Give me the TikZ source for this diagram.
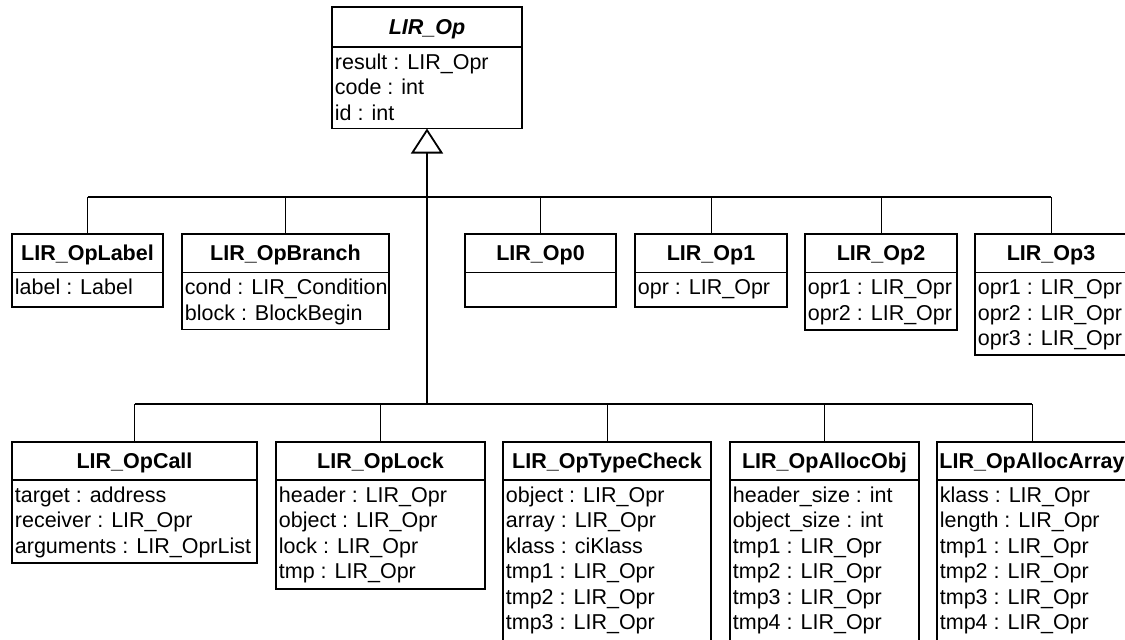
\documentclass[tikz,border=0pt]{standalone}
\usepackage{fontspec}
\setmainfont{Liberation Sans}
\usetikzlibrary{arrows.meta,calc}
\tikzset{
  x=0.5pt, y=-0.5pt,
  boxline/.style={rectangle, draw=black, line width=0.8pt, fill=white, inner sep=0pt, outer sep=0pt},
  classname/.style={font=\fontsize{10.75pt}{12.75pt}\selectfont\bfseries, inner sep=0pt,
                    text height=7.7pt, text depth=0pt, anchor=center},
  attrtext/.style={font=\fontsize{10.75pt}{12.75pt}\selectfont, align=left, inner sep=0pt, anchor=north west},
  stemline/.style={line width=0.5pt},
  busline/.style={line width=0.8pt},
  genline/.style={line width=0.9pt, -{Triangle[open, length=12.5pt, width=16pt]}},
}
% class box: name, left x, top y, width, name height, attribute height, title, attributes
\newcommand\umlclass[8]{%
  \node[boxline, anchor=north west, minimum width=#4*0.5pt, minimum height=#5*0.5pt] (#1) at (#2,#3) {};
  \node[boxline, anchor=north west, minimum width=#4*0.5pt, minimum height=#6*0.5pt] (#1-attr) at (#1.south west) {};
  \node[classname] (#1-name) at (#1.center) {#7};
  \node[attrtext] (#1-text) at ($(#1-attr.north west)+(2.5,2.2)$) {\rule{0pt}{9.9pt}#8};
}
\begin{document}
\begin{tikzpicture}
\useasboundingbox (0,0) rectangle (1125,639);
\clip (0,0) rectangle (1125,639);
\fill[white] (0,0) rectangle (1125,639);

% base class
\umlclass{Op}{332}{7}{190}{40}{81.5}{\itshape LIR\_Op}{result : LIR\_Opr\\code : int\\id : int}

% first row of subclasses
\umlclass{OpLabel}{12}{234}{151}{38.5}{34.5}{LIR\_OpLabel}{label : Label}
\umlclass{OpBranch}{182}{234}{207}{38.5}{57}{LIR\_OpBranch}{cond : LIR\_Condition\\block : BlockBegin}
\umlclass{Op0}{465}{234}{151}{38.5}{34.5}{LIR\_Op0}{}
\umlclass{Op1}{635}{234}{152}{38.5}{34.5}{LIR\_Op1}{opr : LIR\_Opr}
\umlclass{Op2}{805}{234}{152}{38.5}{57.5}{LIR\_Op2}{opr1 : LIR\_Opr\\opr2 : LIR\_Opr}
\umlclass{Op3}{975}{234}{152}{38.5}{82.5}{LIR\_Op3}{opr1 : LIR\_Opr\\opr2 : LIR\_Opr\\opr3 : LIR\_Opr}

% second row of subclasses
\umlclass{OpCall}{12}{442}{245}{38}{83}{LIR\_OpCall}{target : address\\receiver : LIR\_Opr\\arguments : LIR\_OprList}
\umlclass{OpLock}{276}{442}{209}{38}{109}{LIR\_OpLock}{header : LIR\_Opr\\object : LIR\_Opr\\lock : LIR\_Opr\\tmp : LIR\_Opr}
\umlclass{OpTypeCheck}{503}{442}{208}{38}{162}{LIR\_OpTypeCheck}{object : LIR\_Opr\\array : LIR\_Opr\\klass : ciKlass\\tmp1 : LIR\_Opr\\tmp2 : LIR\_Opr\\tmp3 : LIR\_Opr}
\umlclass{OpAllocObj}{730}{442}{189}{38}{162}{LIR\_OpAllocObj}{header\_size : int\\object\_size : int\\tmp1 : LIR\_Opr\\tmp2 : LIR\_Opr\\tmp3 : LIR\_Opr\\tmp4 : LIR\_Opr}
\umlclass{OpAllocArray}{937}{442}{190}{38}{162}{LIR\_OpAllocArray}{klass : LIR\_Opr\\length : LIR\_Opr\\tmp1 : LIR\_Opr\\tmp2 : LIR\_Opr\\tmp3 : LIR\_Opr\\tmp4 : LIR\_Opr}

% generalization tree
\coordinate (j1) at (427,197);
\coordinate (j2) at (427,404);
\draw[busline] (OpLabel.north |- j1) -- (Op3.north |- j1);
\draw[busline] (OpCall.north |- j2) -- (OpAllocArray.north |- j2);
\foreach \c in {OpLabel,OpBranch,Op0,Op1,Op2,Op3}
  \draw[stemline] (\c.north) -- (\c.north |- j1);
\foreach \c in {OpCall,OpLock,OpTypeCheck,OpAllocObj,OpAllocArray}
  \draw[stemline] (\c.north) -- (\c.north |- j2);
\draw[genline] (j2) -- (Op-attr.south);
\end{tikzpicture}
\end{document}
